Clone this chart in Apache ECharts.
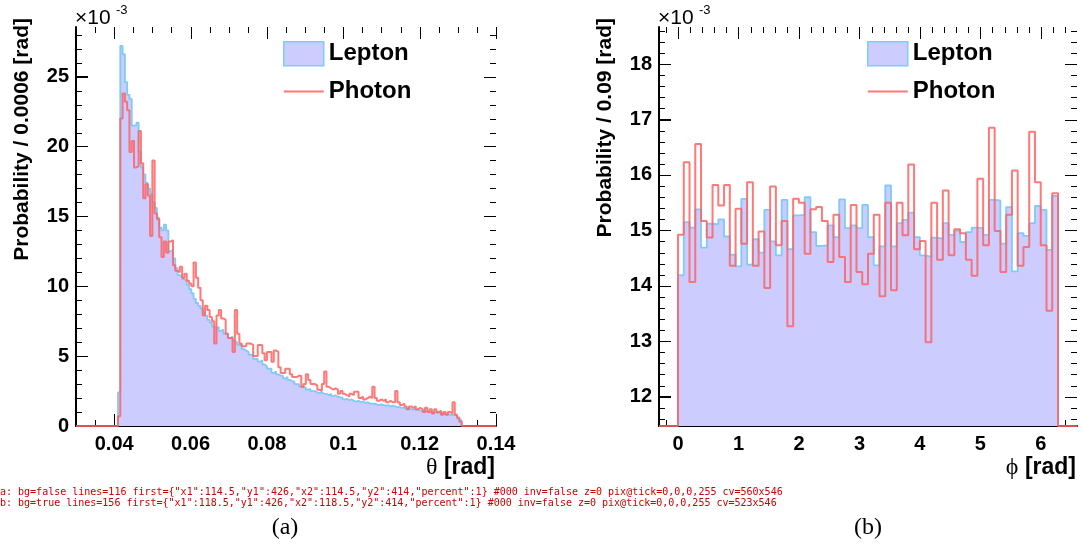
<!DOCTYPE html>
<html><head><meta charset="utf-8">
<script src="https://cdn.jsdelivr.net/npm/echarts@6/dist/echarts.min.js"></script>
<style>html,body{margin:0;padding:0;background:#fff}#wrap{position:relative;width:1083px;height:546px}
#a{position:absolute;left:0;top:0;width:560px;height:546px}#b{position:absolute;left:560px;top:0;width:523px;height:546px}
#dbg{position:absolute;left:0;top:486px;width:1083px;font:10px monospace;color:#c00;white-space:pre}</style>
</head><body><div id="wrap"><div id="a"></div><div id="b"></div><div id="dbg"></div></div>
<script>
const dbg = m => { document.getElementById('dbg').textContent += m + '\n'; };
window.onerror = (m, s, l, c) => dbg('ERR ' + m + ' @' + l + ':' + c);
// ---------- (a) theta histogram, values in units of 1e-3 ----------
const thetaBinStart = 0.0410;
const thetaBinWidth = 0.0006;
const thetaLepton = [
 2.4, 27.2, 26.6, 24.6, 23.7, 23.4, 21.5, 21.5, 21.7, 19.6,
 18.5, 18.0, 17.4, 17.0, 16.6, 16.0, 15.6, 14.9, 14.2, 14.0,
 14.4, 14.0, 12.5, 12.6, 12.0, 11.3, 10.8, 10.7, 10.5, 10.4,
 10.1, 9.8, 9.5, 9.1, 8.8, 8.6, 8.4, 8.1, 7.9, 7.6,
 7.4, 7.1, 7.0, 7.1, 6.8, 6.9, 6.6, 6.6, 6.3, 6.4,
 6.1, 6.0, 5.8, 5.8, 5.5, 5.4, 5.3, 5.1, 5.1, 4.8,
 4.8, 4.6, 4.7, 4.4, 4.3, 4.1, 4.1, 3.8, 3.9, 3.7,
 3.6, 3.6, 3.4, 3.5, 3.3, 3.2, 3.2, 3.0, 3.0, 2.8,
 2.8, 2.75, 2.6, 2.65, 2.5, 2.5, 2.4, 2.35, 2.4, 2.3,
 2.3, 2.2, 2.3, 2.15, 2.2, 2.1, 2.05, 2.05, 1.9, 1.95,
 1.85, 1.9, 1.8, 1.75, 1.8, 1.7, 1.75, 1.65, 1.7, 1.6,
 1.6, 1.6, 1.55, 1.5, 1.55, 1.5, 1.45, 1.5, 1.4, 1.45,
 1.4, 1.35, 1.35, 1.3, 1.3, 1.25, 1.25, 1.2, 1.2, 1.15,
 1.15, 1.1, 1.1, 1.05, 1.05, 1.0, 1.0, 0.95, 0.95, 0.9,
 0.9, 0.9, 0.85, 0.85, 0.8, 0.8, 0.78, 0.75, 0.5, 0.4];
const thetaPhoton = [
 0.7, 22.0, 23.8, 23.2, 22.6, 19.6, 20.4, 18.5, 18.6, 21.1,
 18.8, 16.3, 17.3, 16.5, 13.6, 19.0, 15.2, 14.8, 13.5, 12.1,
 13.2, 12.4, 13.2, 13.3, 11.5, 11.1, 11.0, 11.4, 10.6, 10.9,
 10.4, 10.2, 10.0, 11.7, 10.6, 9.9, 9.0, 7.9, 8.6, 8.3,
 7.8, 7.5, 5.9, 7.9, 8.3, 7.7, 7.6, 6.6, 6.3, 6.3,
 5.3, 8.3, 6.6, 5.9, 5.7, 5.7, 5.9, 5.9, 5.8, 5.0,
 5.0, 5.8, 5.8, 5.2, 4.7, 5.3, 5.3, 4.6, 5.4, 5.3,
 4.2, 3.8, 3.8, 4.1, 4.1, 3.7, 3.5, 3.5, 3.6, 3.6,
 2.8, 3.0, 3.7, 3.3, 3.0, 3.0, 2.9, 2.6, 2.5, 3.0,
 3.9, 2.8, 2.7, 2.6, 2.7, 2.6, 2.3, 2.5, 2.3, 2.2,
 2.1, 2.3, 2.2, 2.45, 2.45, 2.0, 2.1, 1.9, 2.0, 2.1,
 2.0, 2.8, 2.0, 1.8, 1.9, 1.8, 1.9, 1.7, 1.8, 1.7,
 1.7, 2.5, 1.7, 1.5, 1.6, 1.4, 1.2, 1.4, 1.3, 1.4,
 1.2, 1.3, 1.2, 1.0, 1.3, 1.0, 1.2, 0.9, 1.2, 1.0,
 1.1, 0.8, 1.0, 0.8, 1.0, 0.9, 1.7, 0.8, 0.6, 0.3];
const thetaXRange = [0.03, 0.14];
const thetaYRange = [0, 28.55];
const thetaXMajor = [0.04, 0.06, 0.08, 0.10, 0.12, 0.14];
const thetaXMinor = [0.035,0.045,0.05,0.055,0.065,0.07,0.075,0.085,0.09,0.095,0.105,0.11,0.115,0.125,0.13,0.135];
const thetaYMajor = [0, 5, 10, 15, 20, 25];
const thetaYMinor = [1,2,3,4,6,7,8,9,11,12,13,14,16,17,18,19,21,22,23,24,26,27,28];

// ---------- (b) phi histogram, values in units of 1e-3 ----------
const phiBinStart = 0;
const phiBinEnd = 6.2832;
const phiLepton = [
 14.19, 15.15, 15.05, 15.38, 14.69, 15.12, 15.11, 15.20, 14.89, 14.56,
 14.35, 15.57, 14.38, 14.84, 14.60, 15.37, 14.80, 14.55, 15.55, 14.66,
 15.27, 15.28, 15.60, 14.97, 14.72, 14.73, 15.09, 14.88, 15.56, 15.04,
 15.09, 15.04, 15.46, 14.88, 14.37, 14.71, 15.81, 14.71, 15.13, 15.19,
 15.32, 14.88, 14.55, 14.52, 14.87, 14.85, 15.13, 14.92, 14.99, 14.79,
 14.97, 15.05, 15.04, 14.92, 15.55, 15.54, 14.76, 15.42, 14.26, 14.95,
 14.90, 15.13, 15.44, 15.37, 14.65, 15.62];
const phiPhoton = [
 14.92, 16.23, 14.07, 16.56, 15.17, 14.87, 15.82, 15.45, 15.82, 14.36,
 15.39, 14.76, 15.87, 14.36, 14.98, 13.96, 15.79, 14.73, 15.17, 13.27,
 15.57, 15.50, 14.58, 15.38, 15.42, 15.17, 14.43, 15.28, 14.52, 14.07,
 15.46, 14.25, 14.03, 14.58, 15.28, 13.81, 15.50, 13.92, 15.50, 14.91,
 16.19, 14.66, 14.81, 12.98, 15.50, 14.47, 15.72, 14.55, 15.02, 14.95,
 14.47, 14.18, 15.93, 14.73, 16.85, 14.99, 14.25, 15.28, 16.08, 14.36,
 14.70, 16.78, 15.87, 14.73, 13.55, 15.67];
const phiXRange = [-0.3142, 6.5973];
const phiYRange = [11.47, 18.67];
const phiXMajor = [0, 1, 2, 3, 4, 5, 6];
const phiXMinor = [-0.2,0.2,0.4,0.6,0.8,1.2,1.4,1.6,1.8,2.2,2.4,2.6,2.8,3.2,3.4,3.6,3.8,4.2,4.4,4.6,4.8,5.2,5.4,5.6,5.8,6.2,6.4];
const phiYMajor = [12, 13, 14, 15, 16, 17, 18];
const phiYMinor = [11.6,11.8,12.2,12.4,12.6,12.8,13.2,13.4,13.6,13.8,14.2,14.4,14.6,14.8,15.2,15.4,15.6,15.8,16.2,16.4,16.6,16.8,17.2,17.4,17.6,17.8,18.2,18.4,18.6];

const seriesNames = ['Lepton', 'Photon'];

function stepPoints(start, width, vals, base, pre, post) {
  const pts = [];
  if (pre !== undefined) pts.push([pre, base]);
  pts.push([start, base]);
  vals.forEach((v, i) => { pts.push([start + i * width, v]); pts.push([start + (i + 1) * width, v]); });
  pts.push([start + vals.length * width, base]);
  if (post !== undefined) pts.push([post, base]);
  return pts;
}
const SANS = 'Liberation Sans';
const fmtNum = v => String(+(+v).toFixed(3));
const BLUE_LINE = '#7fcbf7', BLUE_FILL = '#ccccff', RED = '#ff6262';

function buildPanel(domId, p, useBg) {
  const chart = echarts.init(document.getElementById(domId));
  const axisOf = (dim, range, majors) => ({type: 'value', min: range[0], max: range[1],
    splitLine: {show: false},
    axisLine: {show: true, onZero: false, lineStyle: {color: '#000', width: 2}},
    axisTick: {show: true, inside: true, length: 12, customValues: majors, lineStyle: {color: '#000', width: 1}},
    axisLabel: {customValues: majors, formatter: fmtNum, color: '#000', fontFamily: SANS, fontWeight: 'bold', fontSize: 20, margin: dim === 'x' ? 8 : 7}});
  const L = p.left;
  const texts = [
    {type: 'text', x: L - 1, y: 18, style: {text: '×10', font: '21px "' + SANS + '"', fill: '#000', verticalAlign: 'middle'}},
    {type: 'text', x: L + 40, y: 10, style: {text: '-3', font: '13px "' + SANS + '"', fill: '#000', verticalAlign: 'middle'}},
    {type: 'text', x: L - 54, y: 18, rotation: Math.PI / 2,
      style: {text: p.ytitle, font: 'bold 21px "' + SANS + '"', fill: '#000', align: 'right', verticalAlign: 'middle'}},
    {type: 'text', x: L + p.width - 1, y: 468, style: {text: '{s|' + p.sym + '}{r| [rad]}', align: 'right', verticalAlign: 'middle',
      rich: {s: {font: '24px "Liberation Serif"', fill: '#000'}, r: {font: 'bold 23px "' + SANS + '"', fill: '#000'}}}},
    {type: 'text', x: p.capX, y: 528, style: {text: p.caption, font: '24px "Liberation Serif"', fill: '#000', align: 'center', verticalAlign: 'middle'}}
  ];
  const opt = {
    animation: false,
    grid: {left: L, top: 27, width: p.width, height: 399},
    xAxis: axisOf('x', p.xr, p.xMaj),
    yAxis: axisOf('y', p.yr, p.yMaj),
    legend: {left: p.legLeft, top: 36, orient: 'vertical', itemWidth: 40, itemHeight: 24, itemGap: 13, selectedMode: false,
      textStyle: {fontFamily: SANS, fontWeight: 'bold', fontSize: 24, color: '#000'},
      data: [{name: seriesNames[0], icon: 'rect', itemStyle: {color: BLUE_FILL, borderColor: BLUE_LINE, borderWidth: 1.5}},
             {name: seriesNames[1], icon: 'path://M0,0H200V9H0Z', itemStyle: {color: RED, opacity: 0.85, borderWidth: 0}}]},
    series: [
      {name: seriesNames[0], type: 'line', data: stepPoints(p.start, p.bw, p.lep, p.yr[0]), symbol: 'none',
        lineStyle: {color: BLUE_LINE, width: 1.8}, itemStyle: {color: BLUE_LINE}, areaStyle: {color: BLUE_FILL, opacity: 1, origin: 'start'}},
      {name: seriesNames[1], type: 'line', data: stepPoints(p.start, p.bw, p.pho, p.yr[0], p.xr[0], p.xr[1]), symbol: 'none',
        lineStyle: {color: RED, width: 2, opacity: 0.85}, itemStyle: {color: RED}}
    ],
    graphic: texts
  };
  if (useBg) opt.backgroundColor = '#fff';
  chart.setOption(opt);
  // top/right mirrored ticks and minor ticks, placed through the chart's own scales
  try {
    const els = [];
    const px = v => chart.convertToPixel({xAxisIndex: 0, yAxisIndex: 0}, v);
    const add = (x1, y1, x2, y2) => els.push({type: 'line', silent: true, shape: {x1, y1, x2, y2}, style: {stroke: '#000', lineWidth: 1}});
    const xt = (vals, len) => vals.forEach(v => { const b = px([v, p.yr[0]]), t = px([v, p.yr[1]]); const x = Math.round(b[0]) + 0.5;
      add(x, b[1], x, b[1] - len); add(x, t[1], x, t[1] + len); });
    const yt = (vals, len) => vals.forEach(v => { const l = px([p.xr[0], v]), r = px([p.xr[1], v]); const y = Math.round(l[1]) + 0.5;
      add(l[0], y, l[0] + len, y); add(r[0], y, r[0] - len, y); });
    xt(p.xMaj, 12); xt(p.xMin, 6); yt(p.yMaj, 12); yt(p.yMin, 6);
    chart.setOption({graphic: texts.concat(els)});
    const lines = chart.getZr().storage.getDisplayList(true).filter(e => e.type === 'line');
    const cv = chart.getDom().querySelector('canvas');
    const ctx = cv.getContext('2d');
    const q = px([p.xr[0], p.yMaj[2]]);
    const pix = ctx.getImageData(Math.round(q[0]) + 5, Math.round(q[1]), 1, 1).data;
    dbg(domId + ': bg=' + useBg + ' lines=' + lines.length + ' first=' + (lines[0] ? JSON.stringify(lines[0].shape) + ' ' + lines[0].style.stroke + ' inv=' + lines[0].invisible + ' z=' + lines[0].z : '-') + ' pix@tick=' + Array.from(pix).join(',') + ' cv=' + cv.width + 'x' + cv.height);
  } catch (e) { dbg(domId + ' CATCH ' + e.message); }
  return chart;
}

buildPanel('a', {left: 76, width: 420, xr: thetaXRange, yr: thetaYRange, xMaj: thetaXMajor, xMin: thetaXMinor, yMaj: thetaYMajor, yMin: thetaYMinor,
  start: thetaBinStart, bw: thetaBinWidth, lep: thetaLepton, pho: thetaPhoton, ytitle: 'Probability / 0.0006 [rad]', sym: 'θ',
  caption: '(a)', capX: 285, legLeft: 278}, false);
buildPanel('b', {left: 99, width: 418, xr: phiXRange, yr: phiYRange, xMaj: phiXMajor, xMin: phiXMinor, yMaj: phiYMajor, yMin: phiYMinor,
  start: phiBinStart, bw: (phiBinEnd - phiBinStart) / phiLepton.length, lep: phiLepton, pho: phiPhoton, ytitle: 'Probability / 0.09 [rad]', sym: 'ϕ',
  caption: '(b)', capX: 308, legLeft: 302}, true);
</script></body></html>
